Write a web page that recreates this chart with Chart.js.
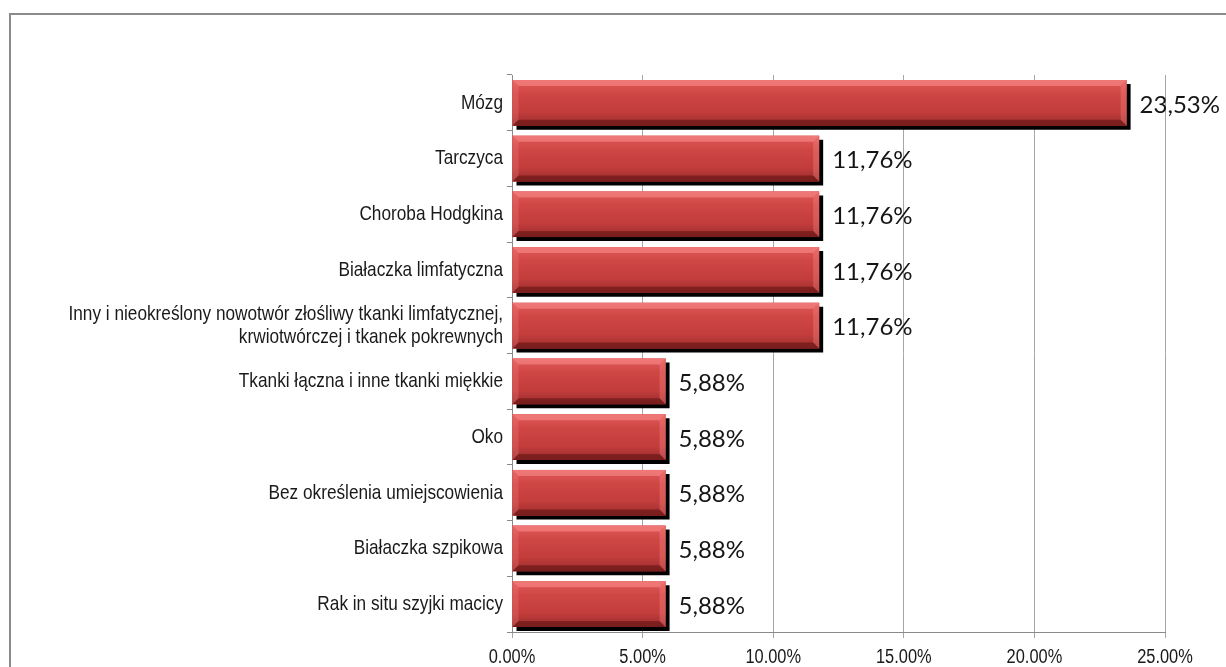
<!DOCTYPE html>
<html>
<head>
<meta charset="utf-8">
<script src="https://cdn.jsdelivr.net/npm/chart.js@4"></script>
<style>
  html, body { margin: 0; padding: 0; background: #fff; overflow: hidden; }
  #frame { position: absolute; left: 9px; top: 13px; width: 1300px; height: 700px;
           border-top: 2px solid #8a8a8a; border-left: 2px solid #8a8a8a; }
  #wrap { position: absolute; left: 0; top: 0; width: 1226px; height: 667px; }
</style>
</head>
<body>
<div id="frame"></div>
<div id="wrap"><canvas id="barChart"></canvas></div>
<script>
// kategorie (od góry)
const categories = [
    'Mózg',
    'Tarczyca',
    'Choroba Hodgkina',
    'Białaczka limfatyczna',
    ['Inny i nieokreślony nowotwór złośliwy tkanki limfatycznej,', 'krwiotwórczej i tkanek pokrewnych'],
    'Tkanki łączna i inne tkanki miękkie',
    'Oko',
    'Bez określenia umiejscowienia',
    'Białaczka szpikowa',
    'Rak in situ szyjki macicy'
];
// udział procentowy
const shares = [23.53, 11.76, 11.76, 11.76, 11.76, 5.88, 5.88, 5.88, 5.88, 5.88];
const xTicks = [0, 5, 10, 15, 20, 25];

// brak Arial Narrow - zwężamy Liberation Sans
const NARROW = 0.82;
const narrowText = (ctx, txt, x, y, align) => {
    ctx.save();
    ctx.scale(NARROW, 1);
    ctx.textAlign = align;
    ctx.fillText(txt, x / NARROW, y);
    ctx.restore();
};

// cień i wypukłość słupków
const bevelPlugin = {
    id: 'bevel',
    beforeDatasetDraw(chart) {
        const ctx = chart.ctx;
        ctx.save();
        ctx.shadowColor = '#000';
        ctx.shadowOffsetX = 4;
        ctx.shadowOffsetY = 4;
        ctx.shadowBlur = 0;
    },
    afterDatasetDraw(chart, args) {
        const ctx = chart.ctx;
        ctx.restore();
        const b = 6;
        args.meta.data.forEach(el => {
            const p = el.getProps(['x', 'y', 'base', 'height'], true);
            const l = p.base, r = p.x, t = p.y - p.height / 2, bt = p.y + p.height / 2;
            // gradient pionowy
            const g = ctx.createLinearGradient(0, t, 0, bt);
            g.addColorStop(0, '#e05b59');
            g.addColorStop(0.3, '#cf4645');
            g.addColorStop(0.7, '#c23d3c');
            g.addColorStop(1, '#982c2b');
            ctx.fillStyle = g;
            ctx.fillRect(l, t, r - l, bt - t);
            const poly = (pts, col) => {
                ctx.beginPath();
                ctx.moveTo(pts[0][0], pts[0][1]);
                pts.slice(1).forEach(q => ctx.lineTo(q[0], q[1]));
                ctx.closePath();
                ctx.fillStyle = col;
                ctx.fill();
            };
            poly([[l, t], [r, t], [r - b, t + b], [l + b, t + b]], 'rgba(255,150,150,0.5)');
            poly([[l, t], [l + b, t + b], [l + b, bt - b], [l, bt]], 'rgba(255,130,130,0.28)');
            poly([[r, t], [r, bt], [r - b, bt - b], [r - b, t + b]], 'rgba(255,150,150,0.3)');
            poly([[l, bt], [r, bt], [r - b, bt - b], [l + b, bt - b]], 'rgba(80,10,10,0.45)');
        });
        // etykiety wartości
        ctx.save();
        ctx.font = "24px Lato, 'Open Sans', sans-serif";
        ctx.fillStyle = '#151515';
        ctx.textBaseline = 'middle';
        args.meta.data.forEach((el, i) => {
            const p = el.getProps(['x', 'y'], true);
            ctx.fillText(shares[i].toFixed(2).replace('.', ',') + '%', p.x + 13, p.y + 2);
        });
        ctx.restore();
    },
    afterDraw(chart) {
        const ctx = chart.ctx;
        const xs = chart.scales.x, ys = chart.scales.y;
        ctx.save();
        ctx.fillStyle = '#1a1a1a';
        ctx.textBaseline = 'middle';
        // etykiety kategorii
        ctx.font = "21px 'Liberation Sans', Arial, sans-serif";
        categories.forEach((lab, i) => {
            const lines = Array.isArray(lab) ? lab : [lab];
            const yc = ys.getPixelForTick(i);
            lines.forEach((ln, k) => {
                narrowText(ctx, ln, ys.right - 9, yc + (k - (lines.length - 1) / 2) * 23, 'right');
            });
        });
        // etykiety osi X
        ctx.font = "20px 'Liberation Sans', Arial, sans-serif";
        xTicks.forEach(v => {
            narrowText(ctx, v.toFixed(2) + '%', xs.getPixelForValue(v), xs.top + 25, 'center');
        });
        ctx.restore();
    }
};

const ctx = document.getElementById('barChart').getContext('2d');
new Chart(ctx, {
    type: 'bar',
    data: {
        labels: categories,
        datasets: [{
            data: shares,
            backgroundColor: '#c43d3c',
            borderWidth: 0,
            categoryPercentage: 0.82,
            barPercentage: 1
        }]
    },
    options: {
        indexAxis: 'y',
        responsive: true,
        maintainAspectRatio: false,
        animation: false,
        layout: { padding: { left: 0, top: 75, right: 61, bottom: 0 } },
        plugins: { legend: { display: false }, tooltip: { enabled: false } },
        scales: {
            x: {
                min: 0,
                max: 25,
                afterBuildTicks: (s) => { s.ticks = xTicks.map(v => ({ value: v })); },
                afterFit: (s) => { s.height = 35; },
                grid: { color: '#a6a6a6', tickLength: 6, lineWidth: 1 },
                border: { color: '#8a8a8a', width: 1 },
                ticks: { display: false }
            },
            y: {
                afterFit: (s) => { s.width = 512; },
                grid: { drawOnChartArea: false, offset: true, tickLength: 5, color: '#8a8a8a' },
                border: { color: '#8a8a8a', width: 1 },
                ticks: { display: false }
            }
        }
    },
    plugins: [bevelPlugin]
});
</script>
</body>
</html>
